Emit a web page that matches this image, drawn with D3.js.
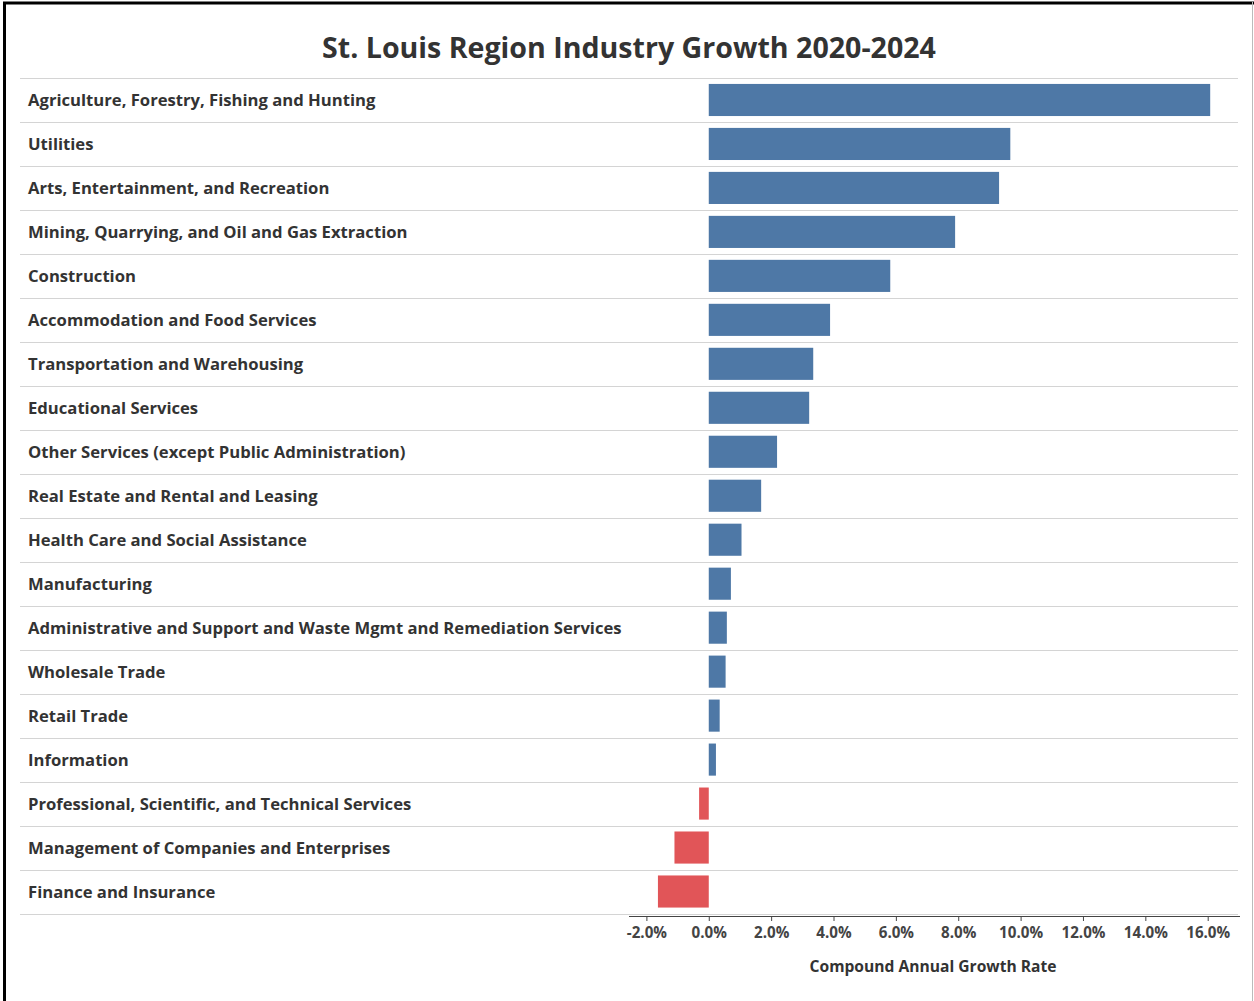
<!DOCTYPE html>
<html>
<head>
<meta charset="utf-8">
<script src="https://cdn.jsdelivr.net/npm/d3@7"></script>
<style>
  html, body { margin: 0; padding: 0; background: #fff; }
  svg { display: block; }
  text { font-family: "Open Sans", Lato, sans-serif; }
</style>
</head>
<body>
<svg id="chart" width="1254" height="1001"></svg>
<script>
// Industries, ordered top to bottom
const industries = [
  "Agriculture, Forestry, Fishing and Hunting",
  "Utilities",
  "Arts, Entertainment, and Recreation",
  "Mining, Quarrying, and Oil and Gas Extraction",
  "Construction",
  "Accommodation and Food Services",
  "Transportation and Warehousing",
  "Educational Services",
  "Other Services (except Public Administration)",
  "Real Estate and Rental and Leasing",
  "Health Care and Social Assistance",
  "Manufacturing",
  "Administrative and Support and Waste Mgmt and Remediation Services",
  "Wholesale Trade",
  "Retail Trade",
  "Information",
  "Professional, Scientific, and Technical Services",
  "Management of Companies and Enterprises",
  "Finance and Insurance"
];

// Compound annual growth rate 2020-2024 (%)
const growthRates = [
  16.08, 9.67, 9.31, 7.90, 5.82, 3.89, 3.35, 3.22, 2.19, 1.68,
  1.05, 0.71, 0.58, 0.54, 0.35, 0.23, -0.31, -1.10, -1.63
];

const xTicks = [-2, 0, 2, 4, 6, 8, 10, 12, 14, 16];

const titleText = "St. Louis Region Industry Growth 2020-2024";
const xAxisTitle = "Compound Annual Growth Rate";

const data = industries.map((name, i) => ({ name, value: growthRates[i] }));

const svg = d3.select("#chart");

// Shrinks/grows a text selection's font size so its widest item spans `target` px
function fitWidth(sel, target) {
  let widest = 0;
  sel.each(function () { widest = Math.max(widest, this.getComputedTextLength()); });
  const size = parseFloat(sel.attr("font-size"));
  sel.attr("font-size", (size * target / widest).toFixed(2));
}

// Frame
svg.append("line").attr("x1", 4.5).attr("x2", 4.5).attr("y1", 2).attr("y2", 1001)
  .attr("stroke", "#000").attr("stroke-width", 3);
svg.append("line").attr("x1", 3).attr("x2", 1254).attr("y1", 3).attr("y2", 3)
  .attr("stroke", "#000").attr("stroke-width", 3);
svg.append("line").attr("x1", 1252.5).attr("x2", 1252.5).attr("y1", 2).attr("y2", 1001)
  .attr("stroke", "#bbb").attr("stroke-width", 1);

// Title
const title = svg.append("text")
  .attr("x", 629).attr("y", 58)
  .attr("text-anchor", "middle")
  .attr("font-size", 27).attr("font-weight", 700)
  .attr("fill", "#333")
  .text(titleText);
fitWidth(title, 614);

const rowTop = 78, rowBottom = 913.5;
const y = d3.scaleBand()
  .domain(industries)
  .range([rowTop, rowBottom])
  .paddingInner(0.27).paddingOuter(0.135);

const x = d3.scaleLinear().domain([-2, 16]).range([646.4, 1207.7]);

// Row separators
const sepYs = d3.range(industries.length + 1).map(i => rowTop + i * (rowBottom - rowTop) / industries.length);
svg.append("g").selectAll("line")
  .data(sepYs)
  .join("line")
  .attr("x1", 20).attr("x2", 1238)
  .attr("y1", d => Math.round(d) + 0.5).attr("y2", d => Math.round(d) + 0.5)
  .attr("stroke", "#d4d4d4").attr("stroke-width", 1);

// Row labels
const labels = svg.append("g").selectAll("text")
  .data(data)
  .join("text")
  .attr("x", 28)
  .attr("y", d => y(d.name) + y.bandwidth() / 2)
  .attr("dy", "0.36em")
  .attr("font-size", 16).attr("font-weight", 700)
  .attr("fill", "#333")
  .text(d => d.name);
fitWidth(labels, 594);

// Bars
svg.append("g").selectAll("rect")
  .data(data)
  .join("rect")
  .attr("x", d => x(Math.min(0, d.value)))
  .attr("width", d => Math.abs(x(d.value) - x(0)))
  .attr("y", d => y(d.name))
  .attr("height", y.bandwidth())
  .attr("fill", d => d.value >= 0 ? "#4e78a6" : "#e15558");

// Axis
const axis = d3.axisBottom(x)
  .tickValues(xTicks)
  .tickSize(5)
  .tickSizeOuter(0)
  .tickFormat(d => d3.format(".1f")(d).replace("\u2212", "-") + "%");

const gAxis = svg.append("g")
  .attr("transform", "translate(0,916)")
  .call(axis);
gAxis.select(".domain").attr("d", "M629,0.5H1240").attr("stroke", "#444");
gAxis.selectAll(".tick line").attr("stroke", "#444");
gAxis.selectAll(".tick text")
  .attr("y", 11)
  .attr("font-size", 15).attr("font-weight", 700)
  .attr("fill", "#444")
  .attr("font-family", "\"Open Sans\", Lato, sans-serif");
fitWidth(gAxis.selectAll(".tick text"), 44);

// Axis title
const axTitle = svg.append("text")
  .attr("x", 933).attr("y", 972)
  .attr("text-anchor", "middle")
  .attr("font-size", 15).attr("font-weight", 700)
  .attr("fill", "#333")
  .text(xAxisTitle);
fitWidth(axTitle, 247);
</script>
</body>
</html>
